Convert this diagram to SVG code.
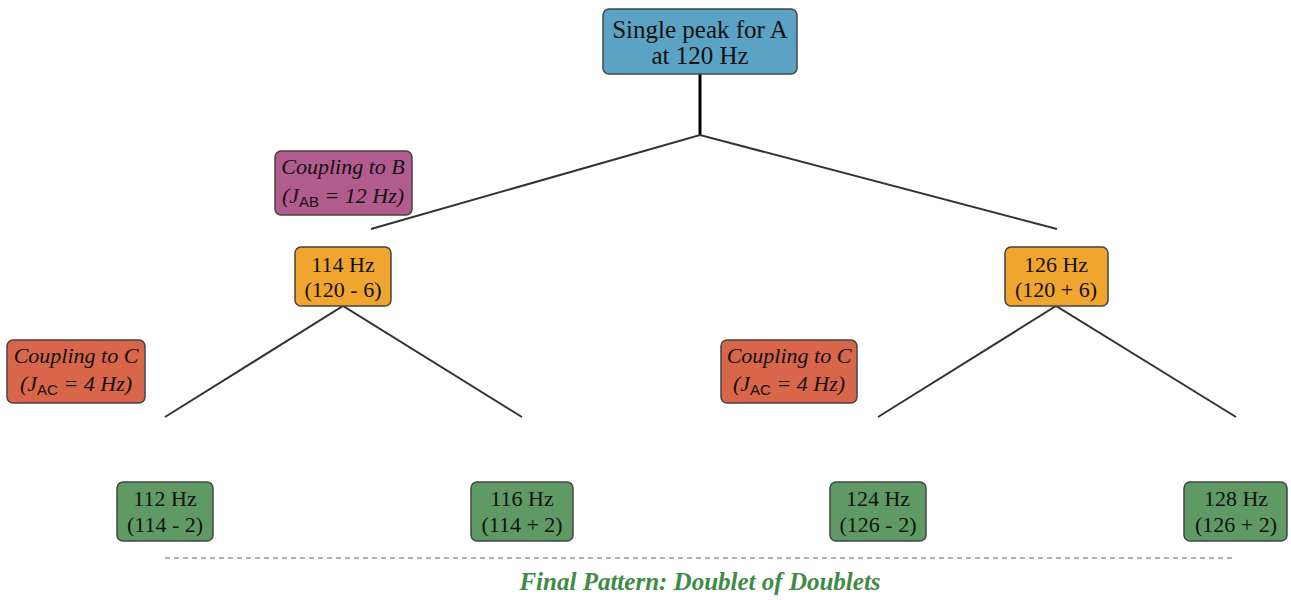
<svg xmlns="http://www.w3.org/2000/svg" width="1291" height="600" viewBox="0 0 1291 600">
<style>
.n{stroke:#444;stroke-width:1.5}
.t{font-family:"Liberation Serif",serif;font-size:22px;fill:#111;text-anchor:middle}
.big{font-size:25px}
.i{font-style:italic}
.sub{font-family:"Liberation Sans",sans-serif;font-style:normal;font-size:15px}
.c{stroke:#333;stroke-width:2;fill:none}
</style>
<rect width="1291" height="600" fill="#fff"/>
<g id="connectors">
<line x1="700" y1="74" x2="700" y2="136" stroke="#000" stroke-width="3"/>
<polyline class="c" points="371,229 700,135 1057,229"/>
<polyline class="c" points="165,417 343,306 522,417"/>
<polyline class="c" points="878,417 1056,306 1236,417"/>
</g>
<g id="nodeA"><rect class="n" x="603" y="9" width="194" height="65" rx="6" fill="#5aa3c4"/><text class="t big" x="700" y="38">Single peak for A</text><text class="t big" x="700" y="64">at 120 Hz</text></g>
<g id="couplingB"><rect class="n" x="275" y="151" width="137" height="64" rx="6" fill="#b25b8e"/><text class="t i" x="343" y="174">Coupling to B</text><text class="t i" x="343" y="203">(J<tspan class="sub" dy="4">AB</tspan><tspan dy="-4"> = 12 Hz)</tspan></text></g>
<g id="n114"><rect class="n" x="295" y="247" width="96" height="59" rx="6" fill="#f0a62e"/><text class="t" x="343" y="272">114 Hz</text><text class="t" x="343" y="297">(120 - 6)</text></g>
<g id="n126"><rect class="n" x="1005" y="247" width="103" height="59" rx="6" fill="#f0a62e"/><text class="t" x="1056" y="272">126 Hz</text><text class="t" x="1056" y="297">(120 + 6)</text></g>
<g id="couplingC1"><rect class="n" x="7" y="340" width="138" height="63" rx="6" fill="#d9654a"/><text class="t i" x="76" y="363">Coupling to C</text><text class="t i" x="76" y="391">(J<tspan class="sub" dy="4">AC</tspan><tspan dy="-4"> = 4 Hz)</tspan></text></g>
<g id="couplingC2"><rect class="n" x="721" y="340" width="136" height="63" rx="6" fill="#d9654a"/><text class="t i" x="789" y="363">Coupling to C</text><text class="t i" x="789" y="391">(J<tspan class="sub" dy="4">AC</tspan><tspan dy="-4"> = 4 Hz)</tspan></text></g>
<g id="n112"><rect class="n" x="117" y="482" width="96" height="59" rx="6" fill="#5f9a65"/><text class="t" x="165" y="506">112 Hz</text><text class="t" x="165" y="532">(114 - 2)</text></g>
<g id="n116"><rect class="n" x="471" y="482" width="102" height="59" rx="6" fill="#5f9a65"/><text class="t" x="522" y="506">116 Hz</text><text class="t" x="522" y="532">(114 + 2)</text></g>
<g id="n124"><rect class="n" x="830" y="482" width="96" height="59" rx="6" fill="#5f9a65"/><text class="t" x="878" y="506">124 Hz</text><text class="t" x="878" y="532">(126 - 2)</text></g>
<g id="n128"><rect class="n" x="1184" y="482" width="103" height="59" rx="6" fill="#5f9a65"/><text class="t" x="1236" y="506">128 Hz</text><text class="t" x="1236" y="532">(126 + 2)</text></g>
<line x1="165" y1="558" x2="1236" y2="558" stroke="#999" stroke-width="1.5" stroke-dasharray="5,4"/>
<text x="700" y="590" style="font-family:'Liberation Serif',serif;font-size:25px;font-weight:bold;font-style:italic;fill:#3d8b44;text-anchor:middle">Final Pattern: Doublet of Doublets</text>
</svg>
